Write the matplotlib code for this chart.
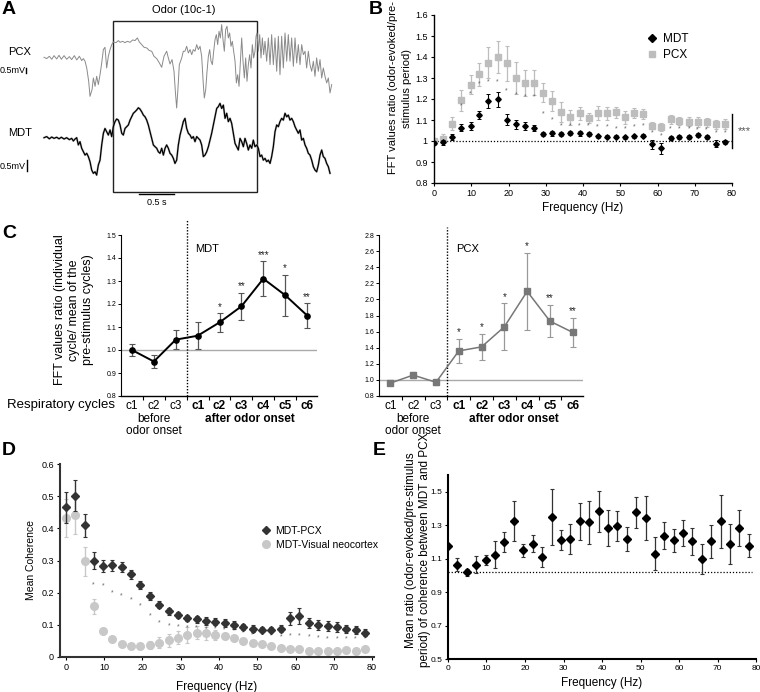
import matplotlib
matplotlib.use('Agg')
import matplotlib.pyplot as plt
from matplotlib.patches import Rectangle
from matplotlib.lines import Line2D

plt.rcParams['font.family'] = ['Liberation Sans', 'DejaVu Sans']

# ---------------- Panel A: example LFP traces (time in s, amplitude in mV)
pcx_t = [0.000, 0.038, 0.076, 0.110, 0.143, 0.181, 0.214, 0.248, 0.286, 0.324, 0.362, 0.395, 0.433, 0.467,
         0.505, 0.538, 0.562, 0.586, 0.610, 0.638, 0.657, 0.686, 0.705, 0.729, 0.752, 0.776, 0.800, 0.824,
         0.848, 0.871, 0.895, 0.919, 0.943, 0.967, 0.990, 1.029, 1.062, 1.086, 1.124, 1.157, 1.190, 1.229,
         1.267, 1.300, 1.333, 1.362, 1.395, 1.429, 1.467, 1.505, 1.538, 1.571, 1.610, 1.648, 1.681, 1.714,
         1.752, 1.776, 1.800, 1.829, 1.857, 1.876, 1.895, 1.914, 1.933, 1.967, 1.990,
         2.014, 2.038, 2.062, 2.086, 2.110, 2.133, 2.157, 2.181, 2.205, 2.229, 2.252, 2.276, 2.290, 2.310,
         2.329, 2.348, 2.367, 2.386, 2.405, 2.424, 2.443, 2.462, 2.481, 2.500, 2.519, 2.538, 2.557, 2.576,
         2.595, 2.614, 2.633, 2.652, 2.671, 2.690, 2.710, 2.729, 2.748, 2.767, 2.786, 2.805, 2.824, 2.843,
         2.862, 2.881, 2.900, 2.919, 2.938, 2.957, 2.976, 2.995, 3.014, 3.029, 3.043, 3.062, 3.081, 3.100,
         3.119, 3.138, 3.157, 3.181, 3.205, 3.229, 3.252, 3.276, 3.300, 3.324, 3.348, 3.371, 3.395, 3.419,
         3.443, 3.467, 3.490, 3.514, 3.538, 3.562, 3.586, 3.610, 3.633, 3.657, 3.681, 3.705, 3.729, 3.752,
         3.776, 3.800, 3.824, 3.848, 3.871, 3.895, 3.919, 3.943, 3.967, 3.990, 4.014, 4.038, 4.062, 4.086,
         4.110]
pcx_mv = [0.00, -0.12, 0.09, -0.18, 0.15, -0.15, 0.18, -0.18, 0.15, -0.18, 0.06, -0.21, 0.15, -0.24,
          0.09, -0.30, -0.12, -0.36, -0.97, -2.18, -3.55, -2.94, -1.88, -2.64, -1.73, -2.48, -1.58, -0.52,
          0.70, 0.91, -0.97, 0.09, 0.70, 1.15, 1.39, 1.33, 1.52, 1.36, 1.45, 1.33, 1.45, 1.36,
          1.58, 1.52, 1.76, 1.39, 1.15, 0.91, 0.85, 0.61, 0.55, 0.09, -0.12, -0.52, -0.91, 0.09,
          0.55, -0.06, -0.61, -0.21, -1.27, -3.09, -4.61, -2.79, -0.67, -0.06, 0.55,
          0.55, 1.00, 0.39, 0.70, 0.24, 0.70, 0.55, 1.15, 0.70, 1.00, 0.09, -2.48, -3.70, -2.94,
          -1.27, 0.09, 0.70, -0.36, -0.67, 0.55, 1.61, 2.06, 1.15, 2.36, 1.76, 2.97, 1.61, 0.55,
          2.52, 2.82, 1.76, 2.21, 1.00, 1.45, 0.55, -0.36, -2.33, -1.58, -2.64, -0.36, 1.76, -0.36,
          -1.88, -0.06, -2.18, -0.67, 0.24, -0.97, 1.15, -0.06, 0.55, 1.91, 2.21, 0.55, 2.06, -0.06,
          1.76, 0.24, 1.45, -0.36, 1.76, -0.67, 2.06, -0.67, 1.76, -1.27, 1.91, -1.58, 1.91, -0.97,
          2.21, -0.36, 2.06, -0.36, 1.76, -0.82, 1.76, -0.52, 1.15, -0.67, 1.15, 0.24, 0.55, -0.97,
          0.55, -0.67, -1.27, -0.36, -1.73, -0.06, -1.27, -0.21, -1.88, -0.97, -1.73, -2.33, -1.88, -3.24,
          -2.48]
mdt_t = [0.000, 0.038, 0.076, 0.110, 0.143, 0.181, 0.214, 0.248, 0.286, 0.324, 0.362, 0.395, 0.419, 0.443,
         0.467, 0.490, 0.514, 0.538, 0.562, 0.586, 0.610, 0.633, 0.657, 0.681, 0.705, 0.729, 0.752, 0.776,
         0.800, 0.824, 0.848, 0.871, 0.895, 0.919, 0.943, 0.967, 0.990, 1.014, 1.038, 1.062, 1.086, 1.110,
         1.133, 1.157, 1.181, 1.205, 1.229, 1.252, 1.276, 1.300, 1.324, 1.348, 1.371, 1.395, 1.419, 1.443,
         1.467, 1.490, 1.514, 1.538, 1.562, 1.586, 1.610, 1.633, 1.657, 1.681, 1.705, 1.729, 1.752, 1.776,
         1.800, 1.824, 1.848, 1.871, 1.895, 1.919, 1.943, 1.967, 1.990, 2.014,
         2.038, 2.062, 2.086, 2.110, 2.133, 2.157, 2.181, 2.205, 2.229, 2.252, 2.276, 2.300, 2.324, 2.348,
         2.371, 2.395, 2.419, 2.443, 2.467, 2.490, 2.514, 2.538, 2.562, 2.586, 2.610, 2.633, 2.657, 2.681,
         2.705, 2.729, 2.752, 2.776, 2.800, 2.824, 2.848, 2.871, 2.895, 2.919, 2.943, 2.967, 2.990, 3.014,
         3.038, 3.062, 3.086, 3.110, 3.133, 3.157, 3.181, 3.205, 3.229, 3.252, 3.276, 3.300, 3.324, 3.348,
         3.371, 3.395, 3.419, 3.443, 3.467, 3.490, 3.514, 3.538, 3.562, 3.586, 3.610, 3.633, 3.657, 3.681,
         3.705, 3.729, 3.752, 3.776, 3.800, 3.824, 3.848, 3.871, 3.895, 3.919, 3.943, 3.967, 3.990, 4.014,
         4.038, 4.062, 4.086]
mdt_mv = [0.00, 0.05, -0.05, 0.03, -0.03, 0.02, -0.05, 0.02, -0.06, 0.00, -0.09, -0.03, -0.15, -0.06,
          0.00, -0.33, -0.18, -0.48, -0.64, -0.79, -0.71, -0.86, -1.09, -1.47, -1.62, -1.55, -1.70, -1.24,
          -1.02, -0.33, 0.20, 0.42, 0.27, 0.12, 0.35, 0.05, 0.50, 0.73, 0.85, 0.80, 0.58, 0.20,
          0.12, 0.42, 0.50, 0.58, 0.80, 0.95, 1.11, 1.18, 1.26, 1.36, 1.30, 1.18, 1.03, 0.95,
          0.80, 0.58, 0.27, -0.03, -0.33, -0.41, -0.48, -0.64, -0.71, -0.48, -0.79, -0.48, -0.33, -0.48,
          -0.71, -0.79, -0.94, -1.17, -1.02, -0.33, 0.12, 0.42, 0.73, 0.88,
          0.42, 0.20, 0.12, -0.03, 0.05, -0.18, 0.05, -0.03, -0.11, -0.33, -0.86, -0.79, -0.64, -0.41,
          -0.11, 0.20, 0.58, 0.95, 1.33, 1.41, 1.56, 1.33, 1.48, 0.88, 1.11, 0.73, 0.88, 0.65,
          0.20, -0.26, -0.41, -0.56, -0.03, -0.18, -0.41, -0.03, -0.26, -0.56, -0.33, -0.48, -0.11, -0.41,
          -0.33, -0.48, -0.86, -0.79, -1.02, -0.94, -1.09, -1.02, -1.17, -0.86, -0.41, 0.27, 0.58, 0.50,
          0.73, 0.88, 0.80, 1.11, 0.95, 1.03, 0.80, 0.88, 0.73, 0.50, 0.35, 0.20, 0.35, -0.11,
          -0.03, -0.33, -0.48, -0.71, -0.79, -1.02, -1.32, -1.47, -1.55, -1.24, -0.79, -0.56, -0.86, -0.94,
          -1.17, -1.32, -1.62]

# ---------------- Panels B, D, E: frequency bins (Hz)
freq = [0.0, 2.4, 4.9, 7.3, 9.8, 12.2, 14.6, 17.1, 19.5, 22.0, 24.4, 26.9, 29.3, 31.7, 34.2, 36.6, 39.1,
        41.5, 43.9, 46.4, 48.8, 51.3, 53.7, 56.2, 58.6, 61.0, 63.5, 65.9, 68.4, 70.8, 73.2, 75.7, 78.1]

b_mdt = [0.99, 0.995, 1.019, 1.064, 1.071, 1.125, 1.192, 1.198, 1.102, 1.079, 1.071, 1.06, 1.035, 1.036,
         1.035, 1.038, 1.036, 1.035, 1.022, 1.02, 1.02, 1.017, 1.022, 1.025, 0.984, 0.965, 1.014, 1.019,
         1.019, 1.03, 1.019, 0.987, 0.995]
b_mdt_err = [0.01, 0.012, 0.014, 0.017, 0.018, 0.02, 0.033, 0.034, 0.028, 0.02, 0.02, 0.014, 0.01, 0.01,
             0.01, 0.01, 0.01, 0.01, 0.008, 0.008, 0.008, 0.008, 0.008, 0.008, 0.02, 0.027, 0.01, 0.01,
             0.008, 0.01, 0.01, 0.016, 0.01]
b_pcx = [0.999, 1.011, 1.083, 1.194, 1.268, 1.317, 1.373, 1.40, 1.371, 1.30, 1.276, 1.278, 1.23, 1.19,
         1.137, 1.113, 1.132, 1.11, 1.135, 1.132, 1.137, 1.113, 1.132, 1.129, 1.073, 1.067, 1.103, 1.095,
         1.092, 1.092, 1.089, 1.079, 1.083]
b_pcx_err = [0.01, 0.02, 0.03, 0.05, 0.045, 0.055, 0.075, 0.078, 0.083, 0.078, 0.064, 0.058, 0.046, 0.048,
             0.048, 0.035, 0.03, 0.024, 0.033, 0.03, 0.027, 0.03, 0.023, 0.022, 0.017, 0.02, 0.022, 0.021,
             0.022, 0.024, 0.022, 0.023, 0.024]
b_star_y = [1.165, 1.225, 1.27, 1.28, 1.28, 1.24, 1.22, 1.21, 1.21, 1.13, 1.10, 1.07, 1.07, 1.07, 1.07,
            1.067, 1.067, 1.059, 1.059, 1.067, 1.07, 1.038, 1.022, 1.059, 1.059, 1.059, 1.054, 1.051,
            1.038, 1.038]

# ---------------- Panel C
cyc_labels = ['c1', 'c2', 'c3', 'c1', 'c2', 'c3', 'c4', 'c5', 'c6']
c_mdt = [1.00, 0.95, 1.045, 1.062, 1.12, 1.19, 1.31, 1.238, 1.15]
c_mdt_err = [0.027, 0.03, 0.04, 0.058, 0.04, 0.06, 0.077, 0.09, 0.053]
c_mdt_sig = ['', '', '', '', '*', '**', '***', '*', '**']
c_pcx = [0.96, 1.06, 0.97, 1.36, 1.41, 1.66, 2.10, 1.73, 1.59]
c_pcx_err = [0.02, 0.04, 0.03, 0.15, 0.16, 0.29, 0.48, 0.20, 0.18]
c_pcx_sig = ['', '', '', '*', '*', '*', '*', '**', '**']

# ---------------- Panel D
d_pcx = [0.465, 0.502, 0.409, 0.30, 0.283, 0.285, 0.28, 0.257, 0.224, 0.19, 0.162, 0.142, 0.13, 0.122,
         0.117, 0.113, 0.11, 0.106, 0.10, 0.093, 0.088, 0.085, 0.085, 0.088, 0.12, 0.128, 0.105, 0.10,
         0.097, 0.094, 0.088, 0.083, 0.076]
d_pcx_err = [0.048, 0.047, 0.037, 0.027, 0.02, 0.018, 0.016, 0.015, 0.013, 0.013, 0.011, 0.01, 0.01, 0.01,
             0.01, 0.012, 0.012, 0.012, 0.012, 0.01, 0.01, 0.008, 0.008, 0.01, 0.02, 0.025, 0.015, 0.015,
             0.015, 0.015, 0.013, 0.012, 0.01]
d_vis = [0.432, 0.443, 0.297, 0.157, 0.08, 0.055, 0.04, 0.033, 0.034, 0.038, 0.045, 0.052, 0.06, 0.068,
         0.075, 0.074, 0.068, 0.065, 0.058, 0.05, 0.045, 0.04, 0.033, 0.028, 0.026, 0.025, 0.02, 0.02,
         0.02, 0.02, 0.022, 0.02, 0.026]
d_vis_err = [0.06, 0.06, 0.045, 0.022, 0.01, 0.008, 0.007, 0.008, 0.01, 0.013, 0.017, 0.02, 0.02, 0.025,
             0.02, 0.02, 0.015, 0.01, 0.008, 0.006, 0.006, 0.006, 0.005, 0.004, 0.004, 0.004, 0.003, 0.003,
             0.003, 0.003, 0.003, 0.003, 0.008]
d_star_y = [0.225, 0.22, 0.20, 0.19, 0.178, 0.158, 0.128, 0.106, 0.098, 0.093, 0.09, 0.09, 0.088, 0.088,
            0.085, 0.08, 0.075, 0.07, 0.068, 0.066, 0.063, 0.065, 0.065, 0.063, 0.06, 0.057, 0.055, 0.055,
            0.055, 0.055]

# ---------------- Panel E
e_ratio = [1.173, 1.064, 1.018, 1.064, 1.09, 1.124, 1.197, 1.323, 1.149, 1.189, 1.11, 1.349, 1.209, 1.217,
           1.323, 1.317, 1.382, 1.283, 1.293, 1.217, 1.376, 1.343, 1.13, 1.237, 1.209, 1.253, 1.203, 1.10,
           1.203, 1.323, 1.189, 1.283, 1.177]
e_err = [0.0, 0.04, 0.02, 0.05, 0.03, 0.08, 0.06, 0.12, 0.04, 0.05, 0.06, 0.17, 0.06, 0.09, 0.11, 0.13,
         0.12, 0.11, 0.09, 0.07, 0.09, 0.13, 0.10, 0.08, 0.07, 0.08, 0.08, 0.09, 0.10, 0.16, 0.12, 0.11, 0.07]

W, H = 760, 692
fig = plt.figure(figsize=(W / 100, H / 100), dpi=100)


def px_axes(x0, y0, x1, y1):
    return fig.add_axes([x0 / W, 1 - y1 / H, (x1 - x0) / W, (y1 - y0) / H])


def letter(x, y, s):
    fig.text(x / W, 1 - y / H, s, fontsize=14, fontweight='bold', ha='left', va='top')


def side_label(x, y, s, **kw):
    fig.text(x / W, 1 - y / H, s, rotation=90, ha='center', va='center', **kw)


# ======================= A =======================
axA = px_axes(0, 0, 380, 215)
axA.set_xlim(-0.629, 4.8)
axA.set_ylim(-3.514, 6.259)
axA.axis('off')
pcx_gain = 0.5
pcx_offset = 3.655
axA.plot(pcx_t, [pcx_offset + pcx_gain * v for v in pcx_mv], color='#8a8a8a', lw=0.7)
axA.plot(mdt_t, mdt_mv, color='#a0a0a0', lw=1.6, alpha=0.6)
axA.plot(mdt_t, mdt_mv, color='black', lw=0.9)
axA.add_patch(Rectangle((0.99, -2.47), 2.05, 7.77, fill=False, ec='#222222', lw=1.0))
axA.text(2.0, 5.82, 'Odor (10c-1)', ha='center', va='center', fontsize=8)
axA.plot([1.357, 1.857], [-2.56, -2.56], color='black', lw=1.0)
axA.text(1.607, -2.95, '0.5 s', ha='center', va='center', fontsize=6.5)
axA.text(-0.514, 3.9, 'PCX', ha='left', va='center', fontsize=8)
axA.text(-0.629, 3.04, '0.5mV', ha='left', va='center', fontsize=6.5)
axA.plot([-0.257, -0.257], [3.168, 3.168 - 0.5 * pcx_gain], color='black', lw=1.0)
axA.text(-0.514, 0.21, 'MDT', ha='left', va='center', fontsize=8)
axA.text(-0.629, -1.29, '0.5mV', ha='left', va='center', fontsize=6.5)
axA.plot([-0.243, -0.243], [-1.01, -1.51], color='black', lw=1.0)
letter(2, 1, 'A')

# ======================= B =======================
axB = px_axes(434, 15, 732, 183)
axB.errorbar(freq, b_pcx, yerr=b_pcx_err, fmt='s', ms=4, color='#bdbdbd', ecolor='#bdbdbd',
             elinewidth=0.9, capsize=1.5, capthick=0.8, label='PCX', zorder=2)
axB.errorbar(freq, b_mdt, yerr=b_mdt_err, fmt='D', ms=2.8, color='black', ecolor='black',
             elinewidth=0.8, capsize=1.2, capthick=0.7, label='MDT', zorder=3)
for f, y in zip(freq[3:], b_star_y):
    axB.text(f, y, '*', ha='center', va='center', fontsize=5, color='#666666')
axB.axhline(1.0, color='black', lw=0.9, ls=(0, (1, 1.5)), zorder=1)
axB.set_xlim(0, 80)
axB.set_ylim(0.8, 1.6)
axB.set_xticks(range(0, 81, 10))
axB.set_yticks([0.8, 0.9, 1.0, 1.1, 1.2, 1.3, 1.4, 1.5, 1.6])
axB.set_yticklabels(['0.8', '0.9', '1', '1.1', '1.2', '1.3', '1.4', '1.5', '1.6'])
axB.tick_params(labelsize=6.5, length=2.5, width=0.8, pad=2)
for s in ['top', 'right']:
    axB.spines[s].set_visible(False)
for s in ['left', 'bottom']:
    axB.spines[s].set_linewidth(1.0)
axB.set_xlabel('Frequency (Hz)', fontsize=8.5, labelpad=3)
side_label(400, 88, 'FFT values ratio (odor-evoked/pre-\nstimulus period)', fontsize=8, linespacing=1.45)
axB.plot([80, 80], [0.967, 1.129], color='black', lw=1.0, clip_on=False)
axB.text(81.5, 1.045, '***', ha='left', va='center', fontsize=8, color='#555555')
hB = [Line2D([], [], marker='D', ms=4, color='black', ls='none'),
      Line2D([], [], marker='s', ms=5, color='#bdbdbd', ls='none')]
axB.legend(hB, ['MDT', 'PCX'], loc='upper left', bbox_to_anchor=(0.7, 0.92), frameon=False,
           fontsize=8.5, handlelength=0.8, handletextpad=0.5, labelspacing=0.35, borderaxespad=0)
letter(369, 1, 'B')


# ======================= C =======================
def panel_c(ax, vals, errs, sig, line_c, mk, mk_c, err_c, ylim, yticks, name, name_y, dot_top, star_off):
    xs = list(range(len(vals)))
    ax.axhline(1.0, color='#aaaaaa', lw=1.0, zorder=1)
    ax.errorbar(xs, vals, yerr=errs, fmt='none', ecolor=err_c, elinewidth=0.9, capsize=2, capthick=0.8,
                zorder=2)
    ax.plot(xs, vals, color=line_c, lw=1.4 if mk == 'o' else 1.1, marker=mk, ms=3.8 if mk == 'o' else 4,
            mfc=mk_c, mec=mk_c, zorder=3)
    for x, v, e, s in zip(xs, vals, errs, sig):
        if s:
            ax.text(x, v + e + star_off, s, ha='center', va='bottom', fontsize=7, color='#222222')
    ax.plot([2.5, 2.5], [ylim[0], dot_top], color='black', lw=1.0, ls=(0, (1, 1.2)), clip_on=False)
    ax.text(2.9, name_y, name, ha='left', va='center', fontsize=8)
    ax.set_xlim(-0.5, 8.45)
    ax.set_ylim(*ylim)
    ax.set_yticks(yticks)
    ax.set_yticklabels(['%.1f' % t for t in yticks])
    ax.set_xticks(xs)
    ax.set_xticklabels(cyc_labels)
    for i, lab in enumerate(ax.get_xticklabels()):
        if i >= 3:
            lab.set_fontweight('bold')
    ax.set_xticks([i + 0.5 for i in range(8)], minor=True)
    ax.tick_params(axis='x', which='major', length=0, labelsize=8.5, pad=3)
    ax.tick_params(axis='x', which='minor', length=3, width=0.8)
    ax.tick_params(axis='y', labelsize=5, length=2, width=0.7, pad=1.5)
    for s in ['top', 'right']:
        ax.spines[s].set_visible(False)
    ax.spines['left'].set_linewidth(0.8)
    ax.spines['bottom'].set_linewidth(1.0)
    tr = ax.get_xaxis_transform()
    ax.text(1, -0.105, 'before\nodor onset', transform=tr, ha='center', va='top', fontsize=8.5,
            linespacing=1.05)
    ax.text(5.4, -0.105, 'after odor onset', transform=tr, ha='center', va='top', fontsize=8.5,
            fontweight='bold')


axC1 = px_axes(121, 235, 317, 396)
panel_c(axC1, c_mdt, c_mdt_err, c_mdt_sig, 'black', 'o', 'black', '#555555', (0.8, 1.5),
        [0.8, 0.9, 1.0, 1.1, 1.2, 1.3, 1.4, 1.5], 'MDT', 1.44, 1.565, 0.005)
side_label(74, 310, 'FFT values ratio (individual\ncycle/ mean of the\npre-stimulus cycles)', fontsize=9,
           linespacing=1.2)
axC2 = px_axes(379, 235, 583, 396)
panel_c(axC2, c_pcx, c_pcx_err, c_pcx_sig, '#777777', 's', '#777777', '#999999', (0.8, 2.8),
        [0.8, 1.0, 1.2, 1.4, 1.6, 1.8, 2.0, 2.2, 2.4, 2.6, 2.8], 'PCX', 2.62, 2.9, 0.02)
fig.text(7 / W, 1 - 405 / H, 'Respiratory cycles', fontsize=9.5, ha='left', va='center')
letter(2, 225, 'C')

# ======================= D =======================
axD = px_axes(60, 464, 374, 657)
axD.errorbar(freq, d_vis, yerr=d_vis_err, fmt='o', ms=5.5, color='#c8c8c8', ecolor='#c8c8c8',
             elinewidth=1.0, capsize=1.5, capthick=0.8, zorder=2)
axD.errorbar(freq, d_pcx, yerr=d_pcx_err, fmt='D', ms=4, color='#333333', ecolor='#333333',
             elinewidth=1.0, capsize=1.5, capthick=0.8, zorder=3)
for f, y in zip(freq[3:], d_star_y):
    axD.text(f, y, '*', ha='center', va='center', fontsize=5, color='#666666')
axD.set_xlim(-1.5, 80.5)
axD.set_ylim(0, 0.6)
axD.set_xticks(range(0, 81, 10))
axD.set_yticks([0, 0.1, 0.2, 0.3, 0.4, 0.5, 0.6])
axD.set_yticklabels(['0', '0.1', '0.2', '0.3', '0.4', '0.5', '0.6'])
axD.tick_params(labelsize=6.5, length=2.5, width=0.8, pad=2)
for s in ['top', 'right']:
    axD.spines[s].set_visible(False)
for s in ['left', 'bottom']:
    axD.spines[s].set_linewidth(1.5)
    axD.spines[s].set_color('#333333')
axD.set_xlabel('Frequency (Hz)', fontsize=8.5, labelpad=6)
axD.set_ylabel('Mean Coherence', fontsize=7.5, labelpad=4)
hD = [Line2D([], [], marker='D', ms=4.5, color='#333333', ls='none'),
      Line2D([], [], marker='o', ms=5.5, color='#c8c8c8', ls='none')]
axD.legend(hD, ['MDT-PCX', 'MDT-Visual neocortex'], loc='upper left', bbox_to_anchor=(0.63, 0.70),
           frameon=False, fontsize=7.5, handlelength=0.8, handletextpad=0.5, labelspacing=0.35,
           borderaxespad=0)
letter(2, 442, 'D')

# ======================= E =======================
axE = px_axes(448, 475, 756, 659)
axE.errorbar(freq, e_ratio, yerr=e_err, fmt='D', ms=4.5, color='black', ecolor='#333333',
             elinewidth=0.9, capsize=1.5, capthick=0.8, zorder=3)
axE.plot([0, 79], [1.02, 1.02], color='black', lw=0.9, ls=(0, (1, 1.5)), zorder=1)
axE.set_xlim(0, 80)
axE.set_ylim(0.5, 1.6)
axE.set_xticks(range(0, 81, 10))
axE.set_yticks([0.5, 0.7, 0.9, 1.1, 1.3, 1.5])
axE.tick_params(labelsize=6, length=2.5, width=0.8, pad=1.5)
for s in ['top', 'right']:
    axE.spines[s].set_visible(False)
for s in ['left', 'bottom']:
    axE.spines[s].set_linewidth(1.5)
axE.set_xlabel('Frequency (Hz)', fontsize=8.5, labelpad=4)
side_label(418, 550, 'Mean ratio (odor-evoked/pre-stimulus\nperiod) of coherence between MDT and PCX',
           fontsize=8.5, linespacing=1.15)
letter(373, 442, 'E')

fig.savefig('out.png', dpi=100)
